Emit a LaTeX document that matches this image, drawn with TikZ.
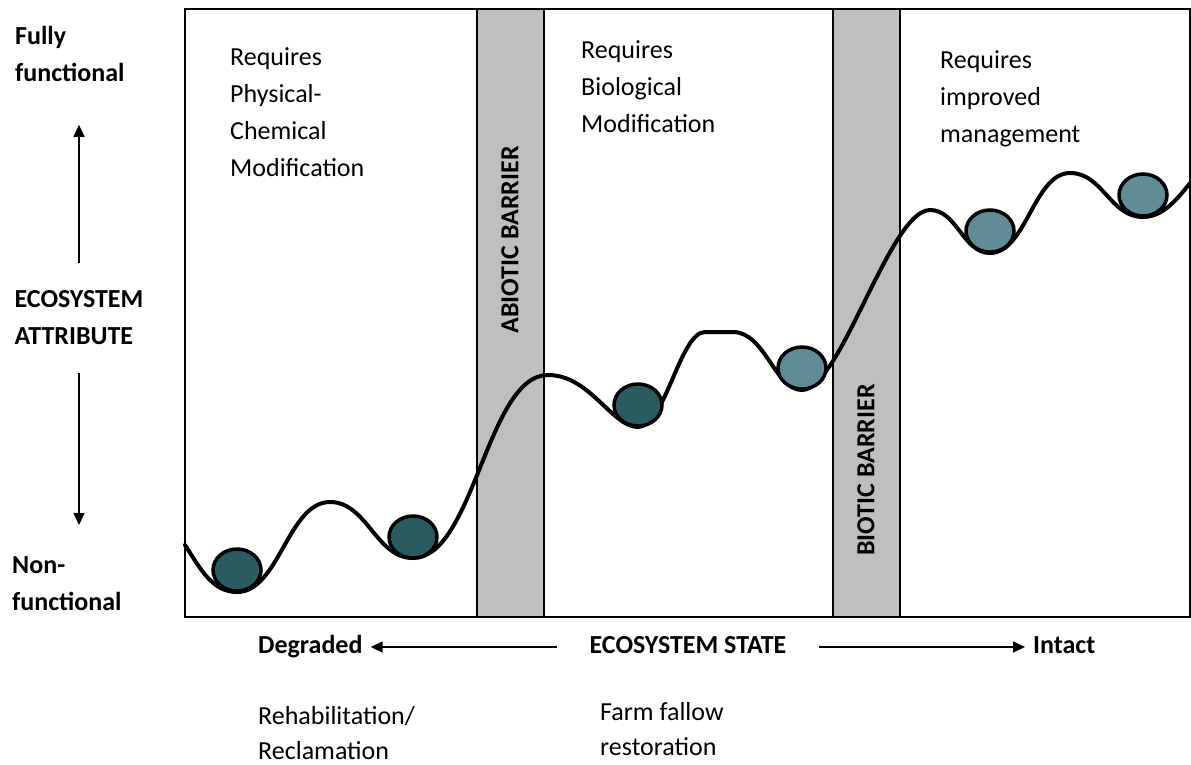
\documentclass[tikz,border=0pt]{standalone}
\usepackage{fontspec}
\setmainfont{Carlito}
\usetikzlibrary{arrows.meta}
\definecolor{barriergray}{RGB}{191,191,191}
\definecolor{balldark}{RGB}{40,92,97}
\definecolor{balllight}{RGB}{96,140,152}
\begin{document}
\begin{tikzpicture}[x=1pt,y=-1pt,
  every node/.style={inner sep=0pt, font=\fontsize{26}{37}\selectfont},
  blocktext/.style={align=left, anchor=north west},
  boldtext/.style={blocktext, font=\fontsize{26}{37}\selectfont\bfseries},
  axtext/.style={font=\fontsize{26}{37}\selectfont\bfseries, text height=17pt, text depth=5pt, inner xsep=8pt},
  axarrow/.style={-{Triangle[length=12pt,width=11pt]}, line width=1.6pt},
  barrier/.style={fill=barriergray, draw=black, line width=1.6pt},
  ball/.style={draw=black, line width=3.5pt},
  bartext/.style={rotate=90, font=\fontsize{26}{26}\selectfont\bfseries}]
\useasboundingbox (0,0) rectangle (1191,764);
% frame and barriers
\draw [black, line width=2pt] (185,9) rectangle (1190,617);
\draw [barrier] (477,9) rectangle (544,617);
\draw [barrier] (833,9) rectangle (900,617);
\node [bartext] (abiotic) at (510,240) {ABIOTIC BARRIER};
\node [bartext] (biotic) at (866,470) {BIOTIC BARRIER};
% landscape
\draw [black, line width=4pt, line cap=round, line join=round]
  (185,545) .. controls (200,568) and (212,592) .. (237,592)
  .. controls (279,592) and (288,502) .. (330,502)
  .. controls (367,502) and (376,558) .. (413,558)
  .. controls (474,558) and (487,375) .. (548,375)
  .. controls (590,375) and (612,427) .. (638,427)
  .. controls (665,427) and (680,332) .. (705,332)
  -- (733,332)
  .. controls (765,332) and (775,390) .. (802,390)
  .. controls (840,390) and (890,210) .. (930,210)
  .. controls (957,210) and (963,253) .. (990,253)
  .. controls (1026,253) and (1034,173) .. (1070,173)
  .. controls (1103,173) and (1110,217) .. (1143,217)
  .. controls (1165,217) and (1180,195) .. (1191,182);
\foreach \x/\y/\c in {237/570/balldark, 413/537/balldark, 638/405/balldark,
                      802/368/balllight, 990/231/balllight, 1143/195/balllight}
  \draw [ball, fill=\c] (\x,\y) ellipse [x radius=24pt, y radius=21pt];
% region texts
\node [blocktext] (phys) at (230,47) {Requires\\Physical-\\Chemical\\Modification};
\node [blocktext] (bio) at (581,40) {Requires\\Biological\\Modification};
\node [blocktext] (mgmt) at (940,50) {Requires\\improved\\management};
% vertical axis
\node [boldtext] (fully) at (15,26) {Fully\\functional};
\node [boldtext, align=left, anchor=center, inner ysep=28pt] (attr) at (79,318) {ECOSYSTEM\\ATTRIBUTE};
\node [boldtext] (nonf) at (12,556) {Non-\\functional};
\draw [axarrow, shorten >=43pt] (attr.north) -- (attr.north |- fully.south);
\draw [axarrow, shorten >=31pt] (attr.south) -- (attr.south |- nonf.north);
% horizontal axis
\node [axtext, anchor=base west] (degr) at (250,653) {Degraded};
\node [axtext, anchor=base, inner xsep=32pt] (state) at (688,653) {ECOSYSTEM STATE};
\node [axtext, anchor=base west] (intact) at (1025,653) {Intact};
\draw [axarrow] (state) -- (degr);
\draw [axarrow] (state) -- (intact);
% restoration types
\node [blocktext, font=\fontsize{26}{35}\selectfont] (rehab) at (258,706) {Rehabilitation/\\Reclamation};
\node [blocktext, font=\fontsize{26}{35}\selectfont] (fallow) at (600,702) {Farm fallow\\restoration};
\end{tikzpicture}
\end{document}
